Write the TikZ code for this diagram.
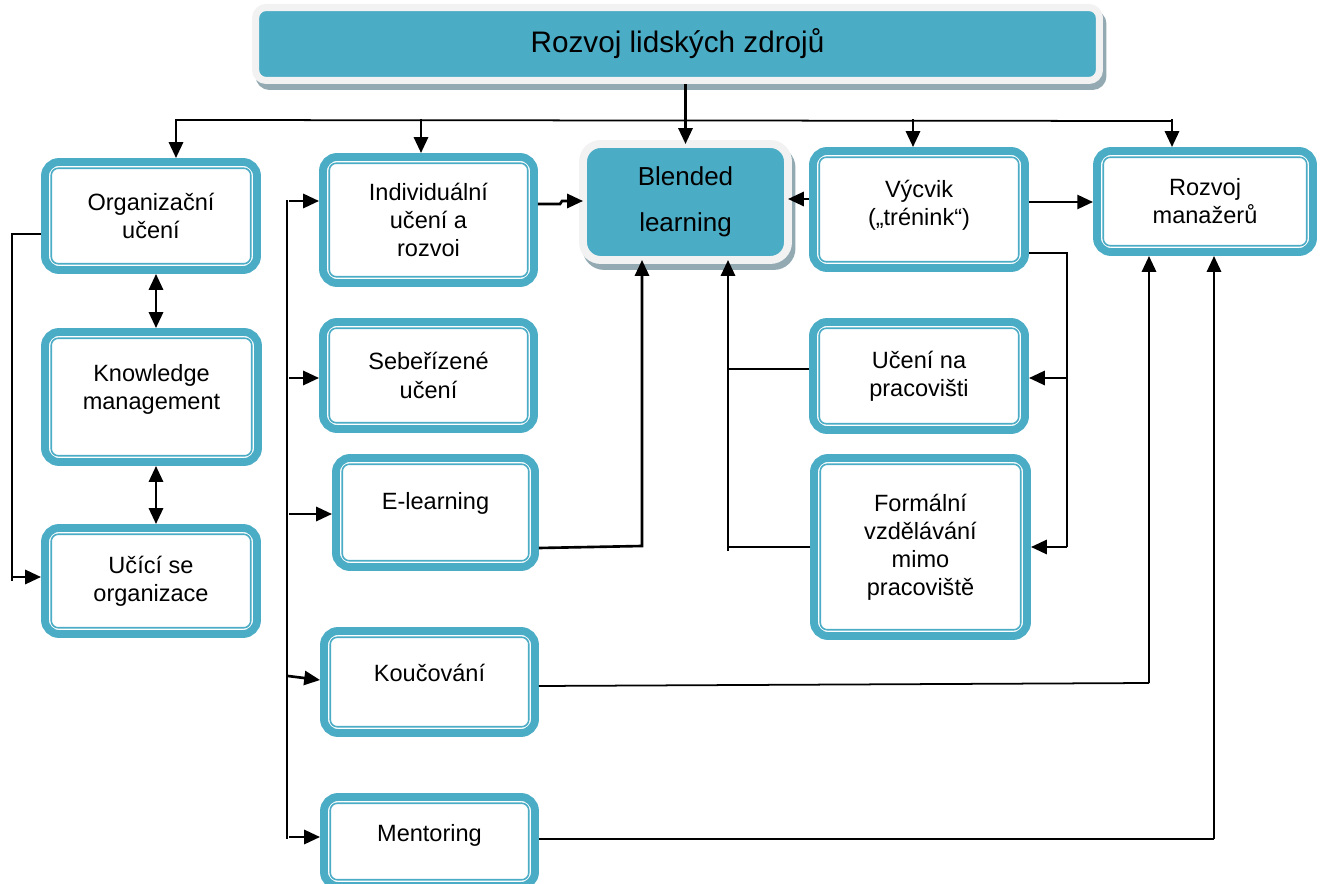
\documentclass[tikz,border=0pt]{standalone}
\usepackage{fontspec}
\setmainfont{Liberation Sans}
\usepackage{xcolor}
\usetikzlibrary{arrows.meta}
\definecolor{tealc}{HTML}{4BACC6}
\definecolor{framec}{HTML}{F2F2F2}
\definecolor{shadowc}{HTML}{93AAB3}
\newcommand{\boxfont}{\fontsize{13.4}{16}\selectfont}

\begin{document}
\begin{tikzpicture}[x=0.02cm, y=-0.02cm,
  box/.style={draw=tealc, line width=4.5pt, outer sep=2.25pt, rounded corners=8pt, fill=white, align=center, inner sep=0pt, font=\boxfont},
  boxsize/.style 2 args={minimum width={(#1-8)*0.02cm}, minimum height={(#2-8)*0.02cm}},
  innerline/.style={draw=tealc, line width=0.9pt, rounded corners=4pt},
  head/.style={fill=tealc, draw=framec, line width=4pt, rounded corners=6pt, inner sep=0pt, preaction={fill=shadowc, draw=shadowc, transform canvas={xshift=2pt,yshift=-3.4pt}}},
  ln/.style={line width=1pt},
  arr/.style={-{Triangle[length=9pt,width=8pt]}, line width=1.5pt},
  dbl/.style={{Triangle[length=9pt,width=8pt]}-{Triangle[length=9pt,width=8pt]}, line width=1.5pt}]
 \useasboundingbox (0,0) rectangle (1324,884);

 \node[head, minimum width=16.88cm, minimum height=1.46cm, font=\fontsize{16.9}{20}\selectfont] (title) at (677.5,44) {Rozvoj lidských zdrojů};
 \node[head, line width=4.5pt, rounded corners=10pt, outer sep=0pt, minimum width=4.1cm, minimum height=2.32cm, align=center, font=\fontsize{14.8}{26}\selectfont] (blend) at (685.5,202) {Blended\\learning};

 \node[box, boxsize={220}{116}] (org) at (151,216) {Organizační\\učení};
 \node[box, boxsize={221}{138}, text depth=11pt] (know) at (151.5,397) {Knowledge\\management};
 \node[box, boxsize={220}{114}] (ucici) at (151,581) {Učící se\\organizace};
 \node[box, boxsize={219}{134}] (indiv) at (428.5,220) {Individuální\\učení a\\rozvoi};
 \node[box, boxsize={219}{115}] (sebe) at (428.5,375.5) {Sebeřízené\\učení};
 \node[box, boxsize={207}{117}, text depth=13pt] (elearn) at (435.5,512.5) {E-learning};
 \node[box, boxsize={219}{110}, text depth=10pt] (kouc) at (429.5,682) {Koučování};
 \node[box, boxsize={219}{97}, text depth=9.6pt] (mentor) at (429.5,841.5) {Mentoring};
 \node[box, boxsize={220}{125}, text depth=8pt] (vycvik) at (919,209.5) {Výcvik\\(„trénink“)};
 \node[box, boxsize={224}{109}] (rozman) at (1205,201.5) {Rozvoj\\manažerů};
 \node[box, boxsize={220}{116}] (ucenipr) at (919,376) {Učení na\\pracovišti};
 \node[box, boxsize={221}{186}] (formal) at (920.5,547) {Formální\\vzdělávání\\mimo\\pracoviště};

 \foreach \n in {org,know,ucici,indiv,sebe,elearn,kouc,mentor,vycvik,rozman,ucenipr,formal}
  \draw[innerline] ([shift={(5.8pt,5.8pt)}]\n.south west) rectangle ([shift={(-5.8pt,-5.8pt)}]\n.north east);

 \draw[arr] (blend.north |- title.south) -- (blend.north);
 \coordinate (busl) at (176,120);
 \coordinate (busr) at (1172,121);
 \draw[ln] (busl) -- (busr);
 \foreach \x/\n in {176/org, 421/indiv, 913/vycvik, 1172/rozman}
  \draw[arr] (\x,119) -- (\x,0 |- \n.north);

 \draw[dbl] (156,0 |- org.south) -- (156,0 |- know.north);
 \draw[dbl] (156,0 |- know.south) -- (156,0 |- ucici.north);
 \draw[ln] (org.west |- 0,234) -- (12,234) -- (12,581);
 \draw[arr] (12,577) -- (ucici.west |- 0,577);

 \draw[ln] (287,200) -- (287,839);
 \foreach \n/\y in {indiv/201, sebe/378, elearn/514, mentor/837}
  \draw[arr] (289,\y) -- (\n.west |- 0,\y);
 \draw[arr] (288,676) -- (kouc.west |- 0,680);

 \draw[arr] (indiv.east |- 0,204) -- (560,204) -- (562,201) -- (blend.west |- 0,201);
 \draw[arr] (elearn.east |- 0,548) -- (642,546) -- (642,0 |- blend.south);
 \draw[arr] (vycvik.west |- 0,199) -- (blend.east |- 0,199);
 \draw[arr] (vycvik.east |- 0,202) -- (rozman.west |- 0,202);

 \draw[ln] (vycvik.east |- 0,253) -- (1067,253) -- (1067,547);
 \draw[arr] (1067,378) -- (ucenipr.east |- 0,378);
 \draw[arr] (1067,547) -- (formal.east |- 0,547);

 \draw[ln] (ucenipr.west |- 0,369) -- (728,369);
 \draw[ln] (formal.west |- 0,547) -- (728,547) -- (728,551);
 \draw[arr] (728,551) -- (728,0 |- blend.south);

 \draw[ln] (kouc.east |- 0,686) -- (1149,683);
 \draw[arr] (1149,683) -- (1149,0 |- rozman.south);
 \draw[ln] (mentor.east |- 0,839) -- (1214,839);
 \draw[arr] (1214,839) -- (1214,0 |- rozman.south);
\end{tikzpicture}
\end{document}
